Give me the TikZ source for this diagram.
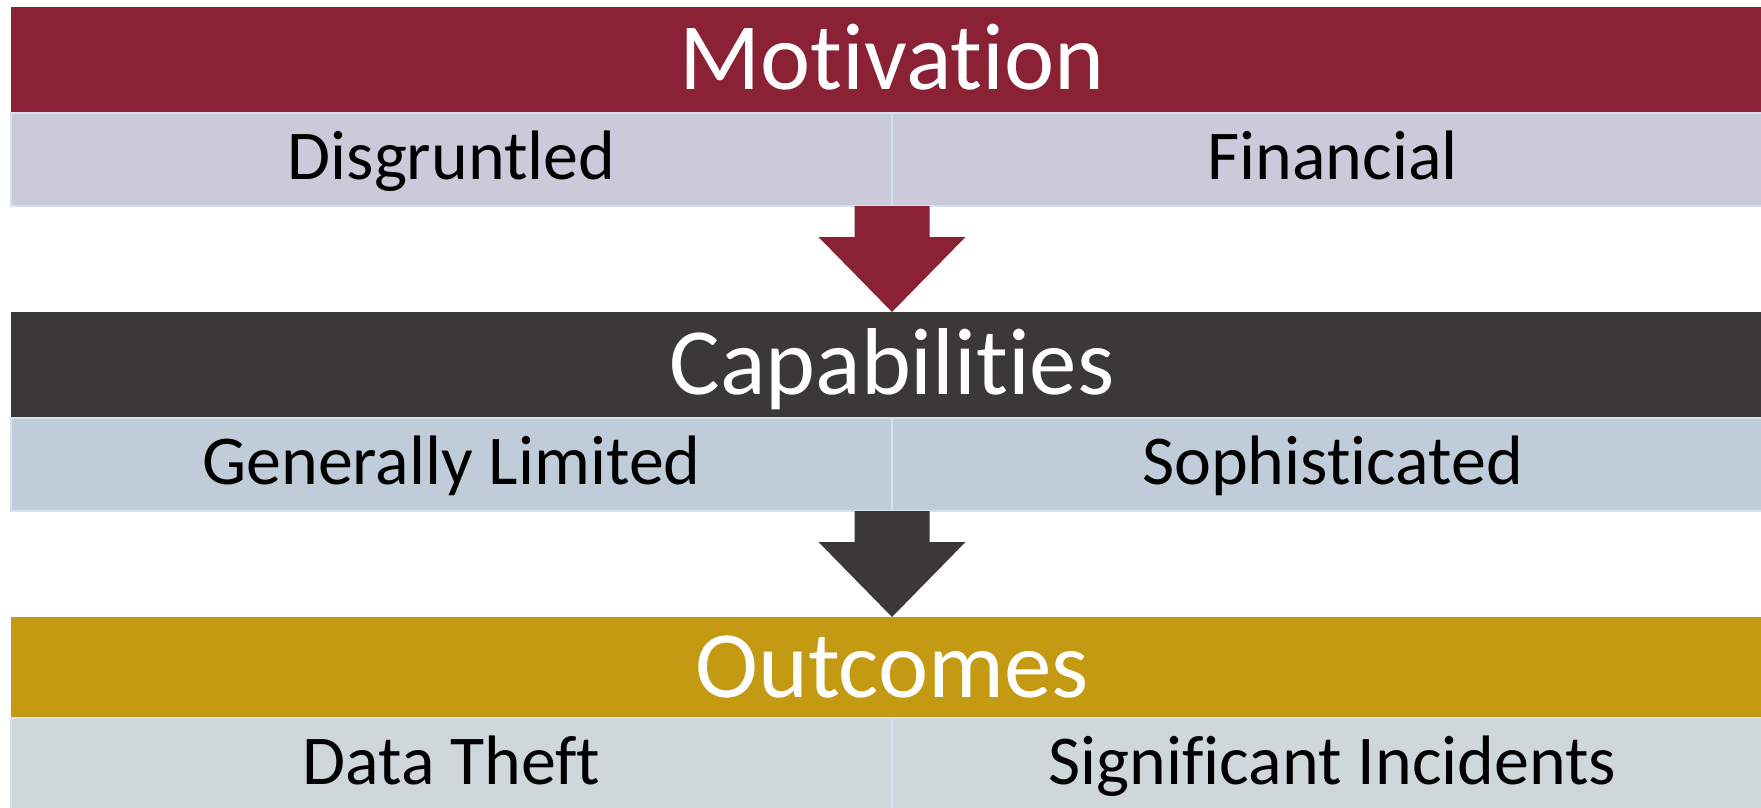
\documentclass[tikz,border=0pt]{standalone}
\usepackage{fontspec}
\setmainfont{Carlito}[Ligatures=NoCommon]
\usetikzlibrary{positioning, calc}

\definecolor{motred}{RGB}{139,33,52}
\definecolor{motsub}{RGB}{203,202,219}
\definecolor{capgray}{RGB}{59,57,55}
\definecolor{capsub}{RGB}{193,204,219}
\definecolor{outgold}{RGB}{196,154,18}
\definecolor{outsub}{RGB}{207,215,219}
\definecolor{cellline}{RGB}{213,225,239}

\begin{document}
\begin{tikzpicture}[x=1pt, y=-1pt,
  header/.style={anchor=north west, fill=#1, text=white, inner sep=0pt, outer sep=0pt, minimum width=1762pt, minimum height=106pt, text height=82pt, text depth=24pt, font=\fontsize{95}{100}\selectfont},
  subcell/.style={anchor=north west, fill=#1, draw=cellline, line width=1.5pt, inner sep=0pt, outer sep=0pt, minimum width=881pt, minimum height=93pt, text height=66pt, text depth=27pt, font=\fontsize{70}{74}\selectfont}]
  \useasboundingbox (0,0) rectangle (1761,808);
  \clip (0,0) rectangle (1761,808);

  % Motivation
  \node[header=motred] (motivation) at (11,7) {Motivation};
  \node[subcell=motsub] (disgruntled) at (motivation.south west) {Disgruntled};
  \node[subcell=motsub] (financial) at (disgruntled.north east) {Financial};

  % Capabilities
  \node[below=106pt of disgruntled.south west, header=capgray] (capabilities) {Capabilities};
  \node[subcell=capsub] (limited) at (capabilities.south west) {Generally Limited};
  \node[subcell=capsub] (sophisticated) at (limited.north east) {Sophisticated};

  % Outcomes
  \node[below=106pt of limited.south west, header=outgold, minimum height=101pt, text height=80pt, text depth=21pt] (outcomes) {Outcomes};
  \node[subcell=outsub] (theft) at (outcomes.south west) {Data Theft};
  \node[subcell=outsub] (incidents) at (theft.north east) {Significant Incidents};

  % Block arrows between the rows
  \fill[motred] ($(disgruntled.south east)+(-37.5,0)$) -- ++(0,31) -- ++(-36,0)
    -- (disgruntled.south east |- capabilities.north)
    -- ($(disgruntled.south east)+(73.5,31)$) -- ++(-36,0) -- ++(0,-31) -- cycle;
  \fill[capgray] ($(limited.south east)+(-37.5,0)$) -- ++(0,31) -- ++(-36,0)
    -- (limited.south east |- outcomes.north)
    -- ($(limited.south east)+(73.5,31)$) -- ++(-36,0) -- ++(0,-31) -- cycle;
\end{tikzpicture}
\end{document}
